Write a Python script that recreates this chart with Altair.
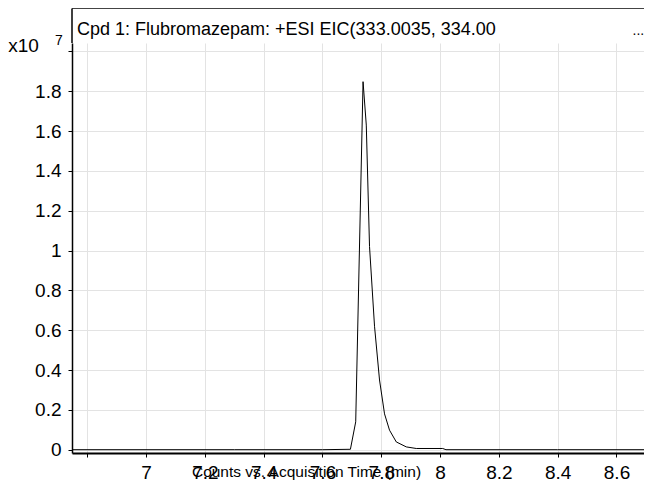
import altair as alt
import pandas as pd

# Chromatogram trace (intensity in units of 1e7 counts)
times = [6.748, 7.300, 7.600, 7.695, 7.713, 7.738, 7.749, 7.760, 7.777, 7.794,
         7.811, 7.828, 7.851, 7.885, 7.919, 8.009, 8.020, 8.400, 8.721]
intensity = [0.0, 0.0, 0.0, 0.002, 0.14, 1.848, 1.63, 1.02, 0.62, 0.35,
             0.18, 0.098, 0.039, 0.014, 0.006, 0.006, 0.0, 0.0, 0.0]

x_ticks = [6.8, 7.0, 7.2, 7.4, 7.6, 7.8, 8.0, 8.2, 8.4, 8.6]
y_ticks = [0.0, 0.2, 0.4, 0.6, 0.8, 1.0, 1.2, 1.4, 1.6, 1.8, 2.0]

header_text = "Cpd 1: Flubromazepam: +ESI EIC(333.0035, 334.00"
x_title = "Counts vs. Acquisition Time (min)"

FONT = "Liberation Sans"
W, H = 572, 410

df = pd.DataFrame({"t": times, "v": intensity})
one = pd.DataFrame({"a": [0]})

line = alt.Chart(df).mark_line(color="black", strokeWidth=1, clip=True).encode(
    x=alt.X("t:Q",
            scale=alt.Scale(domain=[6.748, 6.748 + W / 294.0], nice=False, zero=False),
            axis=alt.Axis(values=x_ticks, format="~g", title=x_title,
                          labelExpr="datum.value < 6.9 ? '' : datum.label",
                          titleX=234, titleY=23, titleAlign="center",
                          titleBaseline="alphabetic", titleFontSize=15.5,
                          titleFontWeight="normal", titleFont=FONT,
                          domainWidth=2, labelPadding=6)),
    y=alt.Y("v:Q",
            scale=alt.Scale(domain=[-0.0166, 2.0422], nice=False, zero=False),
            axis=alt.Axis(values=y_ticks, format="~g", title=None,
                          labelExpr="datum.value > 1.9 ? '' : datum.label",
                          domainWidth=1.5, labelPadding=7)),
)

top_rule = alt.Chart(one).mark_rule(color="#444444", strokeWidth=1).encode(
    x=alt.value(0), x2=alt.value(W), y=alt.value(-34.5))
left_rule = alt.Chart(one).mark_rule(color="black", strokeWidth=1.5).encode(
    x=alt.value(0), y=alt.value(-34.5), y2=alt.value(0))

header = alt.Chart(one).mark_text(align="left", baseline="alphabetic", fontSize=18,
                                  font=FONT, color="black").encode(
    x=alt.value(5), y=alt.value(-8), text=alt.value(header_text))
ellipsis = alt.Chart(one).mark_text(align="left", baseline="alphabetic", fontSize=14,
                                    font=FONT, color="black").encode(
    x=alt.value(560.5), y=alt.value(-8), text=alt.value("..."))
x10 = alt.Chart(one).mark_text(align="left", baseline="alphabetic", fontSize=19,
                               font=FONT, color="black").encode(
    x=alt.value(-63.7), y=alt.value(8.7), text=alt.value("x10"))
exp7 = alt.Chart(one).mark_text(align="left", baseline="alphabetic", fontSize=14,
                                font=FONT, color="black").encode(
    x=alt.value(-17), y=alt.value(2), text=alt.value("7"))

chart = alt.layer(line, top_rule, left_rule, header, ellipsis, x10, exp7).properties(
    width=W, height=H,
    autosize=alt.AutoSizeParams(type="none"),
    padding={"left": 64, "top": 35, "right": 0, "bottom": 30},
).configure_view(stroke=None).configure_axis(
    labelFont=FONT, labelFontSize=19, labelColor="black",
    domainColor="black", tickColor="black", tickSize=4,
    gridColor="#e3e3e3", gridWidth=1,
)

chart.save("out.html", embed_options={"renderer": "svg", "actions": False})
